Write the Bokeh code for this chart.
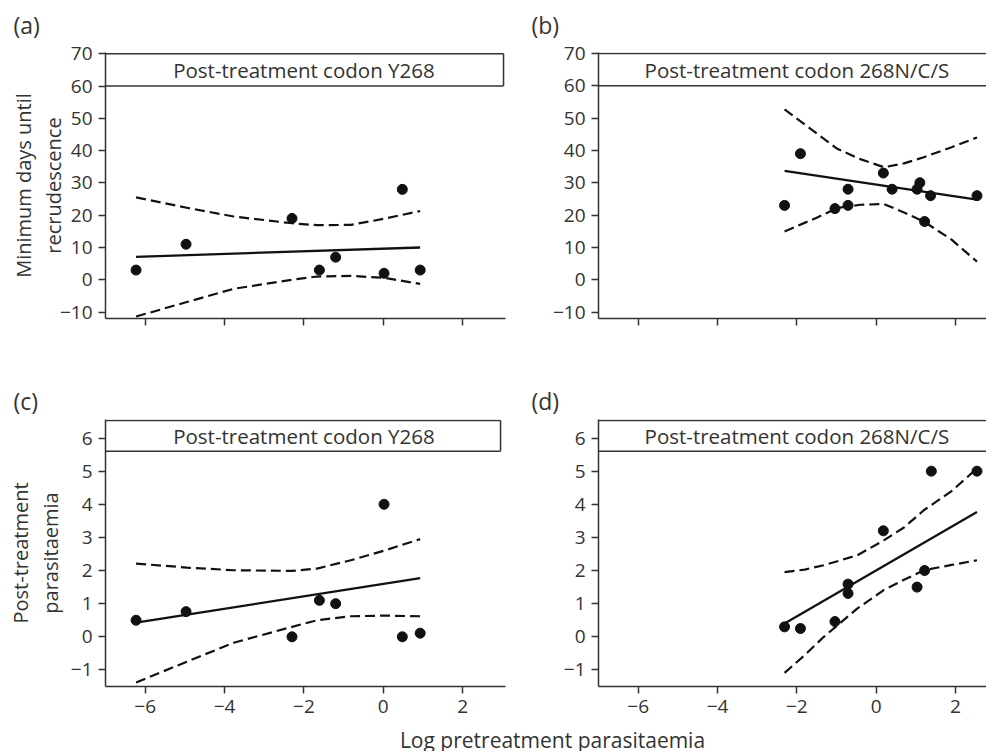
from bokeh.plotting import figure
from bokeh.layouts import column, row
from bokeh.models import Label, FixedTicker, Range1d
from bokeh.embed import file_html
from bokeh.resources import INLINE
from bokeh.core.properties import value

FONT = "Open Sans"
TXT = "#333333"
INK = "#111111"

# ---------------- data ----------------
x_ticks = [-6, -4, -2, 0, 2]
x_tick_labels = ["\u22126", "\u22124", "\u22122", "0", "2"]
days_ticks = [-10, 0, 10, 20, 30, 40, 50, 60, 70]
days_tick_labels = ["\u221210", "0", "10", "20", "30", "40", "50", "60", "70"]
para_ticks = [-1, 0, 1, 2, 3, 4, 5, 6]
para_tick_labels = ["\u22121", "0", "1", "2", "3", "4", "5", "6"]

strip_y268 = "Post-treatment codon Y268"
strip_268ncs = "Post-treatment codon 268N/C/S"
x_title = "Log pretreatment parasitaemia"
days_title = "Minimum days until\nrecrudescence"
para_title = "Post-treatment\nparasitaemia"
panel_tags = ["(a)", "(b)", "(c)", "(d)"]

# (a) Y268 - minimum days until recrudescence
a_x = [-6.23, -4.97, -2.30, -1.61, -1.20, 0.02, 0.48, 0.93]
a_y = [3, 11, 19, 3, 7, 2, 28, 3]
a_fit_x = [-6.23, 0.93]
a_fit_y = [7.1, 10.0]
a_band_x = [-6.23, -4.95, -3.77, -2.30, -1.67, -0.82, 0.02, 0.93]
a_upper = [25.5, 22.3, 19.6, 17.5, 16.9, 17.0, 18.9, 21.3]
a_lower = [-11.4, -6.9, -2.8, 0.0, 1.0, 1.2, 0.6, -1.3]

# (b) 268N/C/S - minimum days until recrudescence
b_x = [-2.31, -1.91, -1.04, -0.71, -0.71, 0.18, 0.40, 1.03, 1.10, 1.22, 1.37, 2.54]
b_y = [23, 39, 22, 28, 23, 33, 28, 28, 30, 18, 26, 26]
b_fit_x = [-2.31, 2.54]
b_fit_y = [33.7, 24.8]
b_band_x = [-2.31, -1.5, -0.98, -0.4, 0.2, 0.7, 1.2, 1.9, 2.54]
b_upper = [52.7, 45.3, 40.5, 37.3, 34.8, 36.0, 37.9, 41.0, 44.0]
b_lower = [14.9, 19.2, 22.2, 23.2, 23.4, 20.8, 18.0, 12.4, 5.6]

# (c) Y268 - post-treatment parasitaemia
c_x = [-6.23, -4.97, -2.30, -1.61, -1.20, 0.02, 0.48, 0.93]
c_y = [0.50, 0.76, 0.0, 1.1, 1.0, 4.0, 0.0, 0.11]
c_fit_x = [-6.23, 0.93]
c_fit_y = [0.43, 1.77]
c_band_x = [-6.23, -4.95, -3.77, -2.30, -1.67, -0.82, 0.02, 0.93]
c_upper = [2.21, 2.09, 2.01, 1.99, 2.06, 2.31, 2.60, 2.95]
c_lower = [-1.38, -0.75, -0.18, 0.30, 0.50, 0.62, 0.64, 0.62]

# (d) 268N/C/S - post-treatment parasitaemia
d_x = [-2.31, -1.91, -1.04, -0.71, -0.71, 0.18, 1.03, 1.22, 1.39, 2.54]
d_y = [0.30, 0.25, 0.46, 1.59, 1.31, 3.2, 1.5, 2.0, 5.0, 5.0]
d_fit_x = [-2.31, 2.54]
d_fit_y = [0.40, 3.77]
d_band_x = [-2.31, -1.8, -1.32, -0.48, 0.19, 0.7, 1.2, 1.9, 2.54]
d_upper = [1.95, 2.03, 2.16, 2.46, 2.91, 3.3, 3.82, 4.4, 5.08]
d_lower = [-1.09, -0.55, 0.0, 0.85, 1.41, 1.72, 2.01, 2.17, 2.31]


def text_strip(width, height):
    f = figure(width=width, height=height, x_range=Range1d(0, 1), y_range=Range1d(0, 1),
               output_backend="svg", toolbar_location=None,
               min_border_left=0, min_border_right=0, min_border_top=0, min_border_bottom=0)
    f.outline_line_color = None
    f.axis.visible = False
    f.grid.visible = False
    return f


def make_panel(width, height, bl, br, bt, bb, xr, yr, yticks, ylabels,
               show_xlabels, strip_lo, strip_hi, strip_right, strip_closed,
               strip_text, xs, ys, fx, fy, bx, bu, blo, ytitle=None, ytitle_standoff=0):
    p = figure(width=width, height=height, x_range=Range1d(*xr), y_range=Range1d(*yr),
               output_backend="svg", toolbar_location=None,
               min_border_left=bl, min_border_right=br,
               min_border_top=bt, min_border_bottom=bb)
    p.outline_line_color = None
    p.grid.visible = False

    for ax in (p.xaxis[0], p.yaxis[0]):
        ax.axis_line_color = "#333333"
        ax.axis_line_width = 1.5
        ax.major_tick_line_color = "#333333"
        ax.major_tick_line_width = 1.5
        ax.major_tick_out = 7
        ax.major_tick_in = 0
        ax.minor_tick_line_color = None
        ax.major_label_text_font = FONT
        ax.major_label_text_font_size = "19px"
        ax.major_label_text_color = TXT
        ax.major_label_standoff = 6
    p.yaxis.ticker = FixedTicker(ticks=yticks)
    p.yaxis.major_label_overrides = dict(zip(yticks, ylabels))
    p.xaxis.ticker = FixedTicker(ticks=x_ticks)
    if show_xlabels:
        p.xaxis.major_label_overrides = dict(zip(x_ticks, x_tick_labels))
    else:
        p.xaxis.major_label_text_color = None
    if ytitle:
        p.yaxis.axis_label = ytitle
        p.yaxis.axis_label_text_font = FONT
        p.yaxis.axis_label_text_font_size = "20px"
        p.yaxis.axis_label_text_font_style = "normal"
        p.yaxis.axis_label_text_color = TXT
        p.yaxis.axis_label_text_line_height = 1.1
        p.yaxis.axis_label_standoff = ytitle_standoff

    # strip box
    x0 = xr[0]
    p.quad(left=[x0], right=[strip_right], bottom=[strip_lo], top=[strip_hi],
           fill_color="white", line_color=None)
    sx0 = [x0, x0]
    sx1 = [strip_right, strip_right]
    sy0 = [strip_lo, strip_hi]
    sy1 = [strip_lo, strip_hi]
    if strip_closed:
        sx0.append(strip_right); sx1.append(strip_right)
        sy0.append(strip_lo); sy1.append(strip_hi)
    p.segment(x0=sx0, y0=sy0, x1=sx1, y1=sy1, line_color="#333333", line_width=1.5)
    p.text(x=[-2.0], y=[(strip_lo + strip_hi) / 2], text=[strip_text],
           text_font=value(FONT), text_font_size=value("20.5px"), text_color=TXT,
           text_align="center", text_baseline="middle")

    # bands, fit, points
    p.line(bx, bu, line_color=INK, line_width=2.2, line_dash="10 5")
    p.line(bx, blo, line_color=INK, line_width=2.2, line_dash="10 5")
    p.line(fx, fy, line_color=INK, line_width=2.3)
    p.scatter(xs, ys, size=10, fill_color=INK, line_color=INK)
    return p


# tag rows
tags_top = text_strip(986, 40)
tags_mid = text_strip(986, 62)
for fig, (t1, t2), ybot in ((tags_top, panel_tags[0:2], 16), (tags_mid, panel_tags[2:4], 17)):
    for t, xs_ in ((t1, 13), (t2, 531)):
        fig.add_layout(Label(x=xs_, y=ybot, x_units="screen", y_units="screen", text=t,
                             text_font=FONT, text_font_size="23px", text_color=TXT,
                             text_align="left", text_baseline="middle"))

pa = make_panel(507, 315, 105, 2, 12, 37, (-7, 3.08), (-12, 70.4), days_ticks, days_tick_labels,
                False, 60, 70, 3.03, True, strip_y268, a_x, a_y, a_fit_x, a_fit_y,
                a_band_x, a_upper, a_lower, days_title, -10)
pb = make_panel(479, 315, 91, 0, 9, 37, (-7, 2.78), (-12, 70.3), days_ticks, days_tick_labels,
                False, 60, 70, 2.78, False, strip_268ncs, b_x, b_y, b_fit_x, b_fit_y,
                b_band_x, b_upper, b_lower)
pc = make_panel(507, 309, 105, 2, 2, 40, (-7, 3.08), (-1.5, 6.56), para_ticks, para_tick_labels,
                True, 5.6, 6.53, 2.955, True, strip_y268, c_x, c_y, c_fit_x, c_fit_y,
                c_band_x, c_upper, c_lower, para_title, 4)
pd_ = make_panel(479, 309, 91, 0, 2, 40, (-7, 2.78), (-1.5, 6.56), para_ticks, para_tick_labels,
                 True, 5.6, 6.53, 2.78, False, strip_268ncs, d_x, d_y, d_fit_x, d_fit_y,
                 d_band_x, d_upper, d_lower)

pt = text_strip(986, 25)
pt.add_layout(Label(x=552, y=12, x_units="screen", y_units="screen", text=x_title,
                    text_font=FONT, text_font_size="21px", text_color=TXT,
                    text_align="center", text_baseline="alphabetic"))

layout = column(tags_top, row(pa, pb), tags_mid, row(pc, pd_), pt, spacing=0)
open("out.html", "w").write(file_html(layout, INLINE))
